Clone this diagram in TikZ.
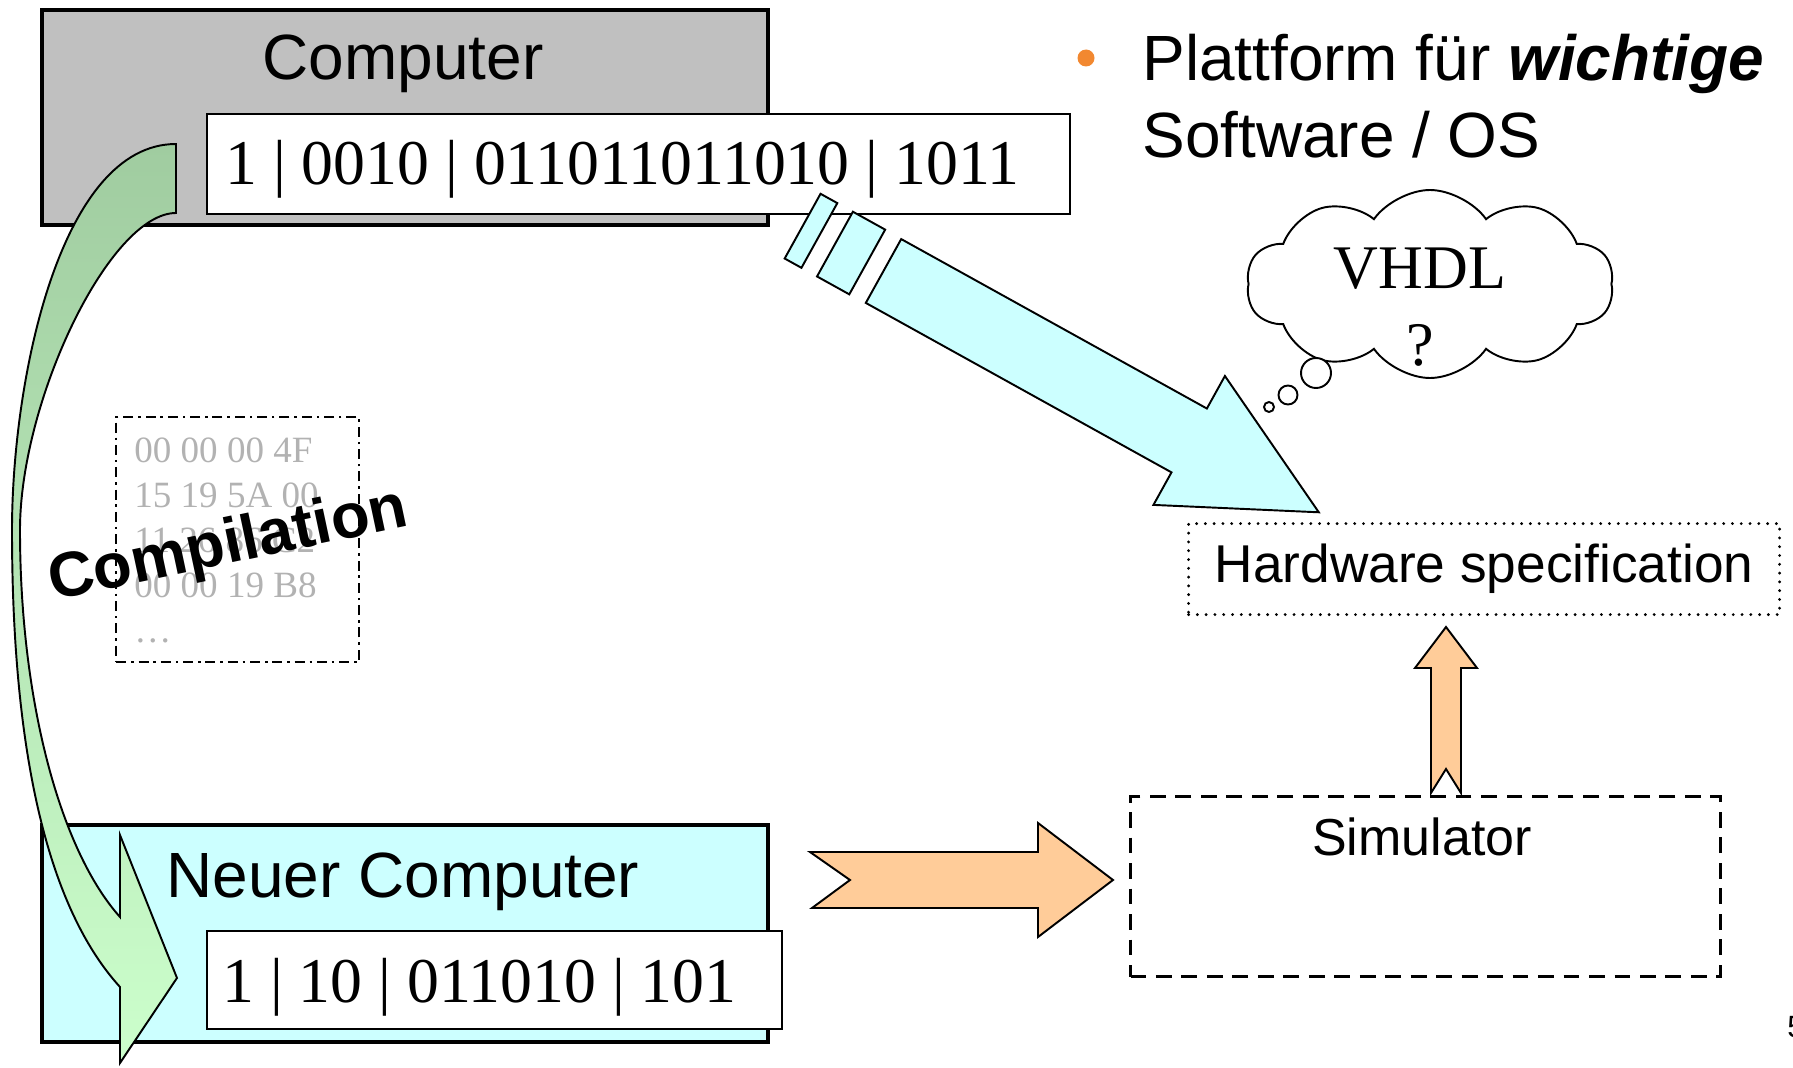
\documentclass[tikz,border=0pt]{standalone}
\usepackage{fontspec}
\setmainfont{Liberation Serif}
\newfontfamily\arial{Liberation Sans}
\usetikzlibrary{shapes.symbols}

\definecolor{compgrey}{RGB}{192,192,192}
\definecolor{newcyan}{RGB}{204,255,255}
\definecolor{arrorange}{RGB}{255,204,153}
\definecolor{greentop}{RGB}{160,204,160}
\definecolor{greenbot}{RGB}{204,255,204}
\definecolor{hexgrey}{RGB}{178,178,178}
\definecolor{bulletorange}{RGB}{242,136,48}

\newcommand{\pxl}{0.02cm}
\newcommand{\titlefont}{\arial\fontsize{36.4pt}{43.8pt}\selectfont}
\newcommand{\bitsfont}{\fontsize{36.3pt}{43.8pt}\selectfont}
\newcommand{\cloudfont}{\fontsize{35.3pt}{43.8pt}\selectfont}
\newcommand{\hexfont}{\fontsize{21.1pt}{25.6pt}\selectfont}
\newcommand{\specfont}{\arial\fontsize{30.3pt}{36pt}\selectfont}
\newcommand{\simfont}{\arial\fontsize{29.6pt}{36pt}\selectfont}

\tikzset{
  machine/.style={draw, line width=2.3pt, inner sep=0pt, anchor=north west},
  bitbox/.style={draw, fill=white, line width=1.1pt, inner sep=0pt, anchor=north west},
  txt/.style={inner sep=0pt, anchor=base},
  blockarrow/.style={draw, line width=1.1pt},
  puff/.style={circle, draw, fill=white, line width=1.1pt, inner sep=0pt}
}

\begin{document}
\begin{tikzpicture}[x=0.02cm,y=-0.02cm]
\useasboundingbox (0,0) rectangle (1793,1068);
% old machine
\node[machine, fill=compgrey, minimum width=726*\pxl, minimum height=215*\pxl] (comp) at (40,8) {};
\node[txt, font=\titlefont] (comptitle) at (403,80) {Computer};
\node[bitbox, minimum width=863*\pxl, minimum height=100*\pxl] (oldbits) at (206,113) {};
\node[txt, anchor=base west, font=\bitsfont] (oldcode) at (225,185) {1 | 0010 | 011011011010 | 1011};
% new machine
\node[machine, fill=newcyan, minimum width=726*\pxl, minimum height=217*\pxl] (newcomp) at (40,823) {};
\node[txt, font=\titlefont] (newtitle) at (403,897) {Neuer Computer};
\node[bitbox, minimum width=575*\pxl, minimum height=98*\pxl] (newbits) at (206,930) {};
\node[txt, anchor=base west, font=\bitsfont] (newcode) at (222,1002) {1 | 10 | 011010 | 101};
% binary code
\node[draw, line width=1.4pt, dash pattern=on 5.7pt off 2.8pt on 1.4pt off 2.8pt, minimum width=243*\pxl, minimum height=245*\pxl, anchor=north west, inner sep=0pt] (hexbox) at (115,416) {};
\node[txt, anchor=base west, align=left, font=\hexfont, text=hexgrey] (hexcode) at (134,642) {00 00 00 4F\\15 19 5A 00\\11 26 86 C2\\00 00 19 B8\\\dots};
% compilation arrow
\draw[line width=1.1pt, top color=greentop, bottom color=greenbot]
  (176,144) .. controls (60,144) and (12,380) .. (12,530)
  .. controls (12,760) and (50,910) .. (120,987)
  -- (120,1063) -- (177,978) -- (120,835) -- (120,917)
  .. controls (60,850) and (20,700) .. (20,530)
  .. controls (20,400) and (110,213) .. (176,213) -- cycle;
\node[txt, font=\arial\bfseries\fontsize{36pt}{43pt}\selectfont, rotate=12] (compile) at (232,563) {Compilation};
% striped arrow
\begin{scope}[shift={(883.5,271)}, rotate=-29]
\draw[blockarrow, fill=newcyan] (-92.5,-37) rectangle (-73.3,37);
\draw[blockarrow, fill=newcyan] (-55.5,-37) rectangle (-18.6,37);
\draw[blockarrow, fill=newcyan] (0,-36.5) -- (349.5,-36.5) -- (349.5,-73.7) -- (497.7,0) -- (349.5,73.7) -- (349.5,36.5) -- (0,36.5) -- cycle;
\end{scope}
% thought
\node[cloud, draw, line width=1.1pt, cloud puffs=10, cloud puff arc=110, aspect=2, minimum width=367*\pxl, minimum height=188*\pxl, inner sep=0pt] (thought) at (1430,284) {};
\node[txt, align=center, font=\cloudfont] (vhdl) at (1420,365) {VHDL\\?};
\node[puff, minimum size=30*\pxl] (puffa) at (1316,373) {};
\node[puff, minimum size=19*\pxl] (puffb) at (1288,395) {};
\node[puff, minimum size=10*\pxl] (puffc) at (1269,407) {};
% hardware side
\node[draw, line width=1.8pt, dash pattern=on 0pt off 5pt, line cap=round, minimum width=591*\pxl, minimum height=91*\pxl, anchor=north west, inner sep=0pt, font=\specfont] (spec) at (1187,522) {Hardware specification};
\node[draw, line width=1.7pt, dash pattern=on 9pt off 5.5pt, minimum width=590*\pxl, minimum height=180*\pxl, anchor=north west, inner sep=0pt] (sim) at (1129,795) {};
\node[txt, font=\simfont] (simtitle) at (1422,855) {Simulator};
\draw[blockarrow, fill=arrorange] (810,852) -- (1038,852) -- (1038,823) -- (1113,880) -- (1038,937) -- (1038,908) -- (812,908) -- (850,880) -- cycle;
\draw[blockarrow, fill=arrorange] (1446,627) -- (1477,668) -- (1461,668) -- (1461,793) -- (1446,769) -- (1431,793) -- (1431,668) -- (1415,668) -- cycle;
% bullet point
\node[circle, fill=bulletorange, minimum size=17*\pxl, inner sep=0pt] (bullet) at (1086,58) {};
\node[txt, anchor=base west, align=left, font=\titlefont] (platform) at (1142,157) {Plattform für \textbf{\textit{wichtige}}\\Software / OS};
\node[txt, anchor=base west, font=\arial\fontsize{17.5pt}{21pt}\selectfont] (pagenum) at (1787,1037) {5};
\end{tikzpicture}
\end{document}
